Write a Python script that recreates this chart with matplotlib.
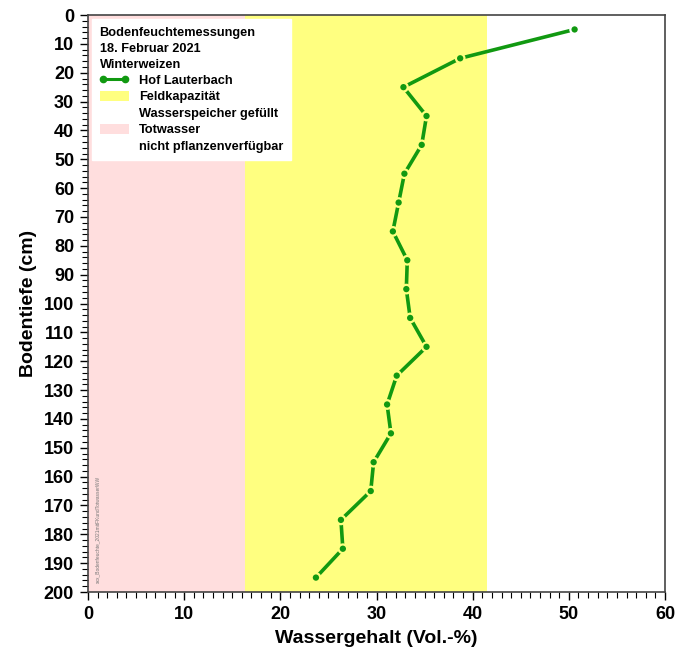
import numpy as np
import matplotlib
matplotlib.use("Agg")
import matplotlib.pyplot as plt
from matplotlib.lines import Line2D
from matplotlib.patches import Patch
from matplotlib.ticker import MultipleLocator

plt.rcParams["font.family"] = ["Liberation Sans", "DejaVu Sans"]

# Messwerte: Tiefe (cm) und Wassergehalt (Vol.-%)
tiefe = [5, 15, 25, 35, 45, 55, 65, 75, 85, 95,
         105, 115, 125, 135, 145, 155, 165, 175, 185, 195]
wasser = [50.6, 38.7, 32.8, 35.2, 34.7, 32.9, 32.3, 31.7, 33.2, 33.1,
          33.5, 35.2, 32.1, 31.1, 31.5, 29.7, 29.4, 26.3, 26.5, 23.7]

# Bereiche
totwasser = 16.3
feldkapazitaet = 41.5

gruen = "#119911"
gelb = "#ffff80"
rosa = "#ffdede"

fig = plt.figure(figsize=(6.86, 6.48), dpi=100)
ax = fig.add_axes([0.1283, 0.0864, 0.8411, 0.8904])

ax.axvspan(0, totwasser, color=rosa, lw=0, zorder=0)
ax.axvspan(totwasser, feldkapazitaet, color=gelb, lw=0, zorder=0)

ax.plot(wasser, tiefe, color=gruen, lw=2.6, zorder=3, solid_capstyle="butt")
# Punkte mit Rand in Hintergrundfarbe (Lücke zur Linie)
rand = ["white" if w > feldkapazitaet else (gelb if w > totwasser else rosa) for w in wasser]
ax.scatter(wasser, tiefe, s=38, c=gruen, edgecolors=rand, linewidths=1.6, zorder=4)

ax.set_xlim(0, 60)
ax.set_ylim(200, 0)
ax.xaxis.set_major_locator(MultipleLocator(10))
ax.xaxis.set_minor_locator(MultipleLocator(1))
ax.yaxis.set_major_locator(MultipleLocator(10))
ax.yaxis.set_minor_locator(MultipleLocator(2))
ax.tick_params(which="major", length=6, width=1, direction="out", labelsize=13, pad=4)
ax.tick_params(which="minor", length=4, width=0.8, direction="out")
for lab in ax.get_xticklabels() + ax.get_yticklabels():
    lab.set_fontweight("bold")
for s in ax.spines.values():
    s.set_color("#444444")
    s.set_linewidth(1.2)

ax.set_xlabel("Wassergehalt (Vol.-%)", fontsize=14, fontweight="bold", labelpad=5)
ax.set_ylabel("Bodentiefe (cm)", fontsize=14, fontweight="bold", labelpad=5)

leer = Patch(facecolor="none", edgecolor="none")
handles = [
    Line2D([], [], color=gruen, lw=2.2, marker="o", ms=4.5),
    Patch(facecolor=gelb, edgecolor="none"),
    leer,
    Patch(facecolor=rosa, edgecolor="none"),
    leer,
]
labels = ["Hof Lauterbach", "Feldkapazität", "Wasserspeicher gefüllt",
          "Totwasser", "nicht pflanzenverfügbar"]
leg = ax.legend(handles, labels, loc="upper left", bbox_to_anchor=(0.0, 1.0),
                borderaxespad=0.3,
                title="Bodenfeuchtemessungen\n18. Februar 2021\nWinterweizen",
                title_fontproperties={"weight": "bold", "size": 9.2},
                alignment="left", prop={"weight": "bold", "size": 9.2},
                frameon=True, fancybox=False, framealpha=1, edgecolor="white",
                numpoints=2, handlelength=2.3, handleheight=0.8,
                handletextpad=0.8, labelspacing=0.32, borderpad=0.6)
leg.get_title().set_linespacing(1.45)

ax.text(0.012, 0.015, "xxx_Bodenfeuchte_2021mitFKundTotwasserWW", transform=ax.transAxes,
        rotation=90, fontsize=3.5, color="#777777", ha="left", va="bottom")

fig.savefig("out.png", dpi=100)
